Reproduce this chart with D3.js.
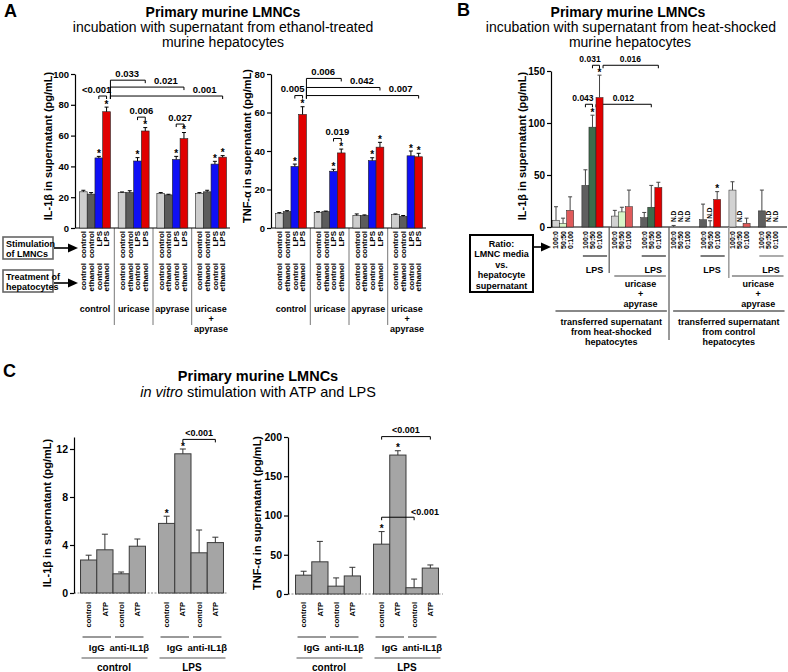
<!DOCTYPE html>
<html><head><meta charset="utf-8">
<script src="https://cdn.jsdelivr.net/npm/d3@7"></script>
<style>body{margin:0;background:#fff}svg{display:block}</style>
</head><body>
<svg id="fig" width="788" height="672"></svg>
<script>
// ================= DATA =================
// Panel A
const aGroups = ["control", "uricase", "apyrase", "uricase + apyrase"];
const aStimulation = ["control", "control", "LPS", "LPS"];
const aTreatment = ["control", "ethanol", "control", "ethanol"];
const aStars = [0, 0, 1, 1];
const aIL1bValues = [[23.5, 22, 45.5, 75.5], [23, 23, 43.5, 63], [22.5, 21.5, 44.5, 58], [22.5, 23.5, 41.5, 46]];
const aIL1bErrors = [[1, 1, 1, 3], [0.4, 1.2, 2.2, 2.2], [0.5, 0.4, 2, 4], [0.5, 1, 1.8, 1]];
const aIL1bTicks = [0, 20, 40, 60, 80, 100];
const aIL1bBrackets = [
  { from: [0, 2], to: [0, 3], y: 85.7, label: "<0.001" },
  { from: [0, 3], to: [1, 3], y: 96, label: "0.033" },
  { from: [0, 3], to: [2, 3], y: 91.5, label: "0.021" },
  { from: [0, 3], to: [3, 3], y: 85.7, label: "0.001" },
  { from: [1, 2], to: [1, 3], y: 72, label: "0.006" },
  { from: [2, 2], to: [2, 3], y: 67.5, label: "0.027" }
];
const aTNFValues = [[7.5, 8.5, 32, 59], [8, 8.5, 29.5, 39], [6.5, 6.5, 35, 42], [7, 6, 37.5, 37]];
const aTNFErrors = [[0.5, 0.5, 1.2, 4], [0.5, 0.3, 1, 2], [0.8, 0.3, 1.5, 2.5], [0.3, 0.5, 2.5, 1.8]];
const aTNFTicks = [0, 20, 40, 60, 80];
const aTNFBrackets = [
  { from: [0, 2], to: [0, 3], y: 68.8, label: "0.005" },
  { from: [0, 3], to: [1, 3], y: 77.7, label: "0.006" },
  { from: [0, 3], to: [2, 3], y: 73, label: "0.042" },
  { from: [0, 3], to: [3, 3], y: 68.8, label: "0.007" },
  { from: [1, 2], to: [1, 3], y: 46.5, label: "0.019" }
];

// Panel B
const bRatios = ["100:0", "50:50", "0:100"];
const bSource = ["heat-shocked", "heat-shocked", "heat-shocked", "heat-shocked", "control", "control", "control", "control"];
const bEnzyme = ["none", "none", "uricase + apyrase", "uricase + apyrase", "none", "none", "uricase + apyrase", "uricase + apyrase"];
const bStimulation = ["none", "LPS", "none", "LPS", "none", "LPS", "none", "LPS"];
const bIL1bValues = [[6.5, 3.5, 16], [40, 96, 124.5], [10.5, 14.5, 19.5], [9, 19, 38], [0, 0, 0], [7, 0, 26.5], [35.5, 0, 3.5], [15.5, 0, 0]];
const bIL1bErrors = [[13, 5, 13], [15, 11.5, 21.5], [5.5, 4.5, 16], [5, 21, 5], [1.5, 0, 0], [15, 6, 7.5], [8, 0, 5], [20, 0, 0]];
const bNotDetected = [[0, 0, 0], [0, 0, 0], [0, 0, 0], [0, 0, 0], [1, 1, 1], [0, 1, 0], [0, 1, 0], [0, 1, 1]];
const bStars = [[0, 0, 0], [0, 1, 1], [0, 0, 0], [0, 0, 0], [0, 0, 0], [0, 0, 1], [0, 0, 0], [0, 0, 0]];
const bTicks = [0, 50, 100, 150];
const bBrackets = [
  { from: [1, 1], to: [1, 2], y: 155.5, label: "0.031" },
  { from: [1, 2], to: [3, 2], y: 155.5, label: "0.016" },
  { from: [1, 0], to: [1, 1], y: 118, label: "0.043" },
  { from: [1, 1], to: [3, 1], y: 118, label: "0.012" }
];
const bSourceText = { "heat-shocked": ["transferred supernatant", "from heat-shocked", "hepatocytes"],
                      "control": ["transferred supernatant", "from control", "hepatocytes"] };

// Panel C
const cConditions = ["control", "LPS"];
const cAntibody = ["IgG", "IgG", "anti-IL1β", "anti-IL1β"];
const cStimulation = ["control", "ATP", "control", "ATP"];
const cStars = [[0, 0, 0, 0], [1, 1, 0, 0]];
const cIL1bValues = [[2.75, 3.6, 1.6, 3.9], [5.8, 11.6, 3.35, 4.2]];
const cIL1bErrors = [[0.4, 1.3, 0.15, 0.6], [0.6, 0.4, 1.9, 0.45]];
const cIL1bTicks = [0, 4, 8, 12];
const cIL1bBrackets = [{ from: [1, 1], to: [1, 3], y: 12.8, label: "<0.001", side: "top" }];
const cTNFValues = [[24, 41, 10, 23], [63.5, 177, 8, 33]];
const cTNFErrors = [[5, 26, 10.5, 11], [16, 5.5, 11, 4]];
const cTNFTicks = [0, 50, 100, 150, 200];
const cTNFBrackets = [
  { from: [1, 0], to: [1, 3], y: 200.5, label: "<0.001", side: "top" },
  { from: [1, 0], to: [1, 2], y: 97.8, label: "<0.001", side: "right" }
];

// ================= STYLE =================
const F = "'Liberation Sans', Arial, Helvetica, sans-serif";
const A_COLORS = ["#cdcdcd", "#5c5c5c", "#0f0ff5", "#e00000"];
const B_COLORS = { none: ["#d2d2d2", "#d8f5c8", "#e05a5a"], LPS: ["#5f5f5f", "#3e6b4c", "#e20000"] };
const C_COLOR = "#a5a5a5";

const svg = d3.select("#fig");
svg.append("rect").attr("width", 788).attr("height", 672).attr("fill", "#fff");

function addText(g, x, y, s, o = {}) {
  const t = g.append("text").attr("x", x).attr("y", y)
    .attr("font-family", F).attr("font-size", o.size || 10)
    .attr("font-weight", o.weight || "normal")
    .attr("text-anchor", o.anchor || "middle")
    .attr("fill", o.fill || "#000");
  if (o.italic) t.attr("font-style", "italic");
  t.text(s);
  return t;
}
function addVText(g, x, y, s, o = {}) {
  return g.append("text").attr("transform", `translate(${x},${y}) rotate(-90)`)
    .attr("dy", o.dy || "0.35em").attr("text-anchor", o.anchor || "end")
    .attr("font-family", F).attr("font-size", o.size || 8)
    .attr("font-weight", o.weight || "bold").attr("fill", o.fill || "#000").text(s);
}
function addLine(g, x1, y1, x2, y2, stroke = "#000", w = 1, dash = null) {
  const l = g.append("line").attr("x1", x1).attr("y1", y1).attr("x2", x2).attr("y2", y2)
    .attr("stroke", stroke).attr("stroke-width", w);
  if (dash) l.attr("stroke-dasharray", dash);
  return l;
}
function arrow(g, x1, x2, y) {
  addLine(g, x1, y, x2 - 8, y, "#000", 1.6);
  g.append("path").attr("d", `M${x2},${y}L${x2 - 10},${y - 4.5}L${x2 - 10},${y + 4.5}Z`).attr("fill", "#000");
}
function yAxis(g, y, x0, ticks, size) {
  const a = g.append("g").attr("transform", `translate(${x0},0)`)
    .call(d3.axisLeft(y).tickValues(ticks).tickSize(4).tickSizeOuter(0).tickPadding(2).tickFormat(d3.format("d")));
  a.select(".domain").attr("stroke", "#000").attr("stroke-width", 1.2);
  a.selectAll(".tick line").attr("stroke", "#000").attr("stroke-width", 1.2);
  a.selectAll(".tick text").attr("font-family", F).attr("font-size", size).attr("font-weight", "bold").attr("fill", "#000");
  return a;
}
function yTitle(g, x, yc, s) {
  g.append("text").attr("transform", `translate(${x},${yc}) rotate(-90)`)
    .attr("text-anchor", "middle").attr("dy", "0.35em")
    .attr("font-family", F).attr("font-size", 11).attr("font-weight", "bold").text(s);
}
function drawBrackets(g, list, xCenter, xRight, y, o) {
  const isLong = b => b.from[0] !== b.to[0];
  const longStarts = list.filter(isLong).map(b => xRight(b.from));
  list.forEach(b => {
    const long = isLong(b);
    const x1 = long ? xRight(b.from) : xCenter(b.from);
    const x2 = xCenter(b.to);
    const yy = y(b.y);
    let drop = o.tick;
    if (long) {
      const lowest = d3.max(list.filter(c => isLong(c) && c.from.join() === b.from.join()), c => y(c.y));
      drop = lowest - yy + o.tick;
    }
    g.append("path").attr("d", `M${x1},${yy + drop}V${yy}H${x2}V${yy + o.tick}`)
      .attr("fill", "none").attr("stroke", "#000").attr("stroke-width", 1);
    if (b.side === "right") { addText(g, x2 - 3, yy - 2, b.label, { size: o.size, weight: "bold", anchor: "start" }); return; }
    let tx = long ? x2 - o.longOffset : (x1 + x2) / 2;
    if (!long && longStarts.some(s => Math.abs(s - x2) < 6)) tx -= 6;
    addText(g, tx, yy - 3.5, b.label, { size: o.size, weight: "bold" });
  });
}

// ================= PANEL A =================
function drawPanelA(cfg) {
  const g = svg.append("g");
  const x = d3.scaleBand().domain(d3.range(aGroups.length)).range([cfg.x0, cfg.x1]).paddingInner(0.2).paddingOuter(0.09);
  const xi = d3.scaleBand().domain(d3.range(aStimulation.length)).range([0, x.bandwidth()]);
  const y = d3.scaleLinear().domain([0, d3.max(cfg.ticks)]).range([228, 74]);
  const bx = (gi, bi) => x(gi) + xi(bi);
  const bc = (gi, bi) => bx(gi, bi) + xi.bandwidth() / 2;
  const br = (p) => x(p[0]) + x.bandwidth();
  for (let i = 1; i < aGroups.length; i++) {
    const sx = (x(i - 1) + x.bandwidth() + x(i)) / 2;
    addLine(g, sx, y(0), sx, 325, "#777", 1);
  }
  addLine(g, cfg.x0, y(0), cfg.x1, y(0), "#000", 1);
  drawBrackets(g, cfg.brackets, p => bc(p[0], p[1]), br, y, { tick: 3, size: 9.5, longOffset: 18 });
  cfg.values.forEach((row, gi) => row.forEach((v, bi) => {
    g.append("rect").attr("x", bx(gi, bi)).attr("y", y(v)).attr("width", xi.bandwidth())
      .attr("height", y(0) - y(v)).attr("fill", A_COLORS[bi]).attr("stroke", "#222").attr("stroke-width", 0.6);
    const cx = bc(gi, bi), top = y(v + cfg.errors[gi][bi]);
    addLine(g, cx, y(v), cx, top); addLine(g, cx - 2, top, cx + 2, top);
    if (aStars[bi]) addText(g, cx, top + 0.5, "*", { size: 10, weight: "bold" });
    addVText(g, cx, 231, aStimulation[bi], { size: 8 });
    addVText(g, cx, 263, aTreatment[bi], { size: 8 });
  }));
  yAxis(g, y, cfg.axisX, cfg.ticks, 9.5);
  yTitle(g, cfg.titleX, 146, cfg.title);
  aGroups.forEach((name, gi) => {
    const cx = x(gi) + x.bandwidth() / 2;
    const parts = name.includes("+") ? name.split(" ").filter(s => s) : [name];
    parts.forEach((p, k) => addText(g, cx, 312 + k * 10, p, { size: 9, weight: "bold" }));
  });
}

const gA = svg.append("g");
addText(gA, 4, 17, "A", { size: 18, weight: "bold", anchor: "start" });
addText(gA, 223, 16.5, "Primary murine LMNCs", { size: 14, weight: "bold" });
addText(gA, 223, 31.5, "incubation with supernatant from ethanol-treated", { size: 14 });
addText(gA, 223, 46.5, "murine hepatocytes", { size: 14 });

drawPanelA({ x0: 76, x1: 230, axisX: 75, ticks: aIL1bTicks, values: aIL1bValues, errors: aIL1bErrors,
  brackets: aIL1bBrackets, title: "IL-1β in supernatant (pg/mL)", titleX: 48 });
drawPanelA({ x0: 272, x1: 426, axisX: 271, ticks: aTNFTicks, values: aTNFValues, errors: aTNFErrors,
  brackets: aTNFBrackets, title: "TNF-α in supernatant (pg/mL)", titleX: 247 });

[["Stimulation", "of LMNCs", 237, 248], ["Treatment of", "hepatocytes", 270, 283]].forEach(([l1, l2, top, ay]) => {
  gA.append("rect").attr("x", 3).attr("y", top).attr("width", 50).attr("height", 22)
    .attr("fill", "#fff").attr("stroke", "#666").attr("stroke-width", 1.6);
  addText(gA, 6, top + 9.5, l1, { size: 9, weight: "bold", anchor: "start" });
  addText(gA, 6, top + 19.5, l2, { size: 9, weight: "bold", anchor: "start" });
  arrow(gA, 54, 78, ay);
});

// ================= PANEL B =================
(function drawPanelB() {
  const g = svg.append("g");
  addText(g, 457, 16, "B", { size: 18, weight: "bold", anchor: "start" });
  addText(g, 628, 16.5, "Primary murine LMNCs", { size: 14, weight: "bold" });
  addText(g, 631, 31.5, "incubation with supernatant from heat-shocked", { size: 14 });
  addText(g, 630, 46.5, "murine hepatocytes", { size: 14 });

  const n = bIL1bValues.length;
  const x = d3.scaleBand().domain(d3.range(n)).range([551, 781]).paddingInner(0.28).paddingOuter(0.05);
  const xi = d3.scaleBand().domain(d3.range(bRatios.length)).range([0, x.bandwidth()]);
  const y = d3.scaleLinear().domain([0, d3.max(bTicks)]).range([227, 71]);
  const bx = (gi, bi) => x(gi) + xi(bi);
  const bc = (gi, bi) => bx(gi, bi) + xi.bandwidth() / 2;
  const br = p => bx(p[0], p[1]) + xi.bandwidth();
  const bw = x.bandwidth();

  addLine(g, 551, y(0), 787, y(0), "#000", 1);
  drawBrackets(g, bBrackets, p => bc(p[0], p[1]), br, y, { tick: 3, size: 8.5, longOffset: 28 });
  bIL1bValues.forEach((row, gi) => row.forEach((v, bi) => {
    const cx = bc(gi, bi);
    if (v > 0) g.append("rect").attr("x", bx(gi, bi)).attr("y", y(v)).attr("width", xi.bandwidth())
      .attr("height", y(0) - y(v)).attr("fill", B_COLORS[bStimulation[gi]][bi]).attr("stroke", "#222").attr("stroke-width", 0.5);
    const e = bIL1bErrors[gi][bi], top = y(v + e);
    if (e > 0) { addLine(g, cx, y(v), cx, top, "#444"); addLine(g, cx - 2, top, cx + 2, top, "#444"); }
    if (bStars[gi][bi]) addText(g, cx, top + 0.5, "*", { size: 10, weight: "bold" });
    if (bNotDetected[gi][bi]) addVText(g, cx, Math.min(222, top - 2), "N.D", { size: 6.5, anchor: "start" });
    addVText(g, cx, 231, bRatios[bi], { size: 7 });
  }));
  yAxis(g, y, 551, bTicks, 10);
  yTitle(g, 522, 146, "IL-1β in supernatant (pg/mL)");

  bStimulation.forEach((s, gi) => {
    if (s !== "LPS") return;
    addLine(g, x(gi) + 1, 256, x(gi) + bw + 4, 256, gi >= 6 ? "#888" : "#444", 1.4);
    addText(g, x(gi) + bw / 2 + 2, 272.5, "LPS", { size: 9, weight: "bold" });
  });
  const runs = (arr, keep) => {
    const out = []; let start = null;
    arr.forEach((v, i) => {
      const same = i > 0 && arr[i - 1] === v && bSource[i - 1] === bSource[i];
      if (!same) { if (start !== null) out.push([start, i - 1]); start = i; }
    });
    out.push([start, arr.length - 1]);
    return out.filter(r => keep(arr[r[0]]));
  };
  runs(bEnzyme, v => v !== "none").forEach(([a, b]) => {
    addLine(g, x(a) + 3, 276, x(b) + bw + 4, 276, "#444", 1.2);
    const cx = (x(a) + x(b) + bw) / 2 + 4;
    ["uricase", "+", "apyrase"].forEach((t, k) => addText(g, cx, 287 + k * 10, t, { size: 9, weight: "bold" }));
  });
  runs(bSource, () => true).forEach(([a, b]) => {
    const x1 = x(a) + 3, x2 = x(b) + bw + 5;
    addLine(g, x1, 311, x2, 311, "#888", 2);
    bSourceText[bSource[a]].forEach((t, k) => addText(g, (x1 + x2) / 2, 325 + k * 10, t, { size: 9, weight: "bold" }));
  });
  const sep = (i) => (x(i - 1) + bw + x(i)) / 2;
  addLine(g, sep(2) + 2, y(0), sep(2) + 2, 273, "#555", 1.2);
  addLine(g, sep(4) + 3, y(0), sep(4) + 3, 340, "#555", 1.2);
  addLine(g, sep(6) + 4, y(0), sep(6) + 4, 278, "#999", 1.5);

  g.append("rect").attr("x", 470).attr("y", 235).attr("width", 63).attr("height", 57)
    .attr("fill", "#fff").attr("stroke", "#000").attr("stroke-width", 2);
  ["Ratio:", "LMNC media", "vs.", "hepatocyte", "supernatant"].forEach((t, k) =>
    addText(g, 501.5, 246.5 + k * 10.5, t, { size: 9, weight: "bold" }));
  arrow(g, 534, 551, 247);
})();

// ================= PANEL C =================
function drawPanelC(cfg) {
  const g = svg.append("g");
  const x = d3.scaleBand().domain(cConditions).range([cfg.x0, cfg.x1]).paddingInner(0.167).paddingOuter(0.058);
  const xi = d3.scaleBand().domain(d3.range(cStimulation.length)).range([0, x.bandwidth()]);
  const y = d3.scaleLinear().domain([0, cfg.max]).range([cfg.base, cfg.top]);
  const bx = (gi, bi) => x(cConditions[gi]) + xi(bi);
  const bc = (gi, bi) => bx(gi, bi) + xi.bandwidth() / 2;
  const br = p => bx(p[0], p[1]) + xi.bandwidth();

  addLine(g, cfg.axisX, y(0), cfg.x1, y(0), "#888", 1, "2,1.5");
  cfg.values.forEach((row, gi) => row.forEach((v, bi) => {
    g.append("rect").attr("x", bx(gi, bi)).attr("y", y(v)).attr("width", xi.bandwidth())
      .attr("height", y(0) - y(v)).attr("fill", C_COLOR).attr("stroke", "#3a3a3a").attr("stroke-width", 1);
    const cx = bc(gi, bi), top = y(v + cfg.errors[gi][bi]);
    addLine(g, cx, y(v), cx, top, "#333"); addLine(g, cx - 3, top, cx + 3, top, "#333");
    if (cStars[gi][bi]) addText(g, cx, top + 0.5, "*", { size: 10, weight: "bold" });
    addVText(g, cx, 602, cStimulation[bi], { size: 7.5 });
  }));
  drawBrackets(g, cfg.brackets, p => bc(p[0], p[1]), br, y, { tick: 3, size: 9, longOffset: 18 });
  yAxis(g, y, cfg.axisX, cfg.ticks, 10.5);
  yTitle(g, cfg.titleX, 513, cfg.title);

  cConditions.forEach((c, gi) => {
    const x0 = x(c), w = x.bandwidth();
    const pairs = [];
    cAntibody.forEach((a, i) => { if (i === 0 || cAntibody[i - 1] !== a) pairs.push([i, i]); else pairs[pairs.length - 1][1] = i; });
    pairs.forEach(([a, b]) => {
      const p1 = bx(gi, a) + 2, p2 = bx(gi, b) + xi.bandwidth() - 2;
      addLine(g, p1, 637, p2, 637, "#555", 1.2);
      addText(g, (p1 + p2) / 2, 651, cAntibody[a], { size: 9.5, weight: "bold" });
    });
    addLine(g, x0 + 1, 658, x0 + w + 2, 658, "#555", 1.2);
    addText(g, x0 + w / 2 + 1, 671, c, { size: 10, weight: "bold" });
  });
}

const gC = svg.append("g");
addText(gC, 3, 377, "C", { size: 18, weight: "bold", anchor: "start" });
addText(gC, 258, 381, "Primary murine LMNCs", { size: 14.5, weight: "bold" });
const cSub = gC.append("text").attr("x", 258).attr("y", 397).attr("text-anchor", "middle")
  .attr("font-family", F).attr("font-size", 14.5);
cSub.append("tspan").attr("font-style", "italic").text("in vitro");
cSub.append("tspan").text(" stimulation with ATP and LPS");

drawPanelC({ x0: 76, x1: 228, axisX: 74, base: 593, top: 437, max: 13, ticks: cIL1bTicks,
  values: cIL1bValues, errors: cIL1bErrors, brackets: cIL1bBrackets, title: "IL-1β in supernatant (pg/mL)", titleX: 47 });
drawPanelC({ x0: 291, x1: 443, axisX: 288, base: 594, top: 437, max: 200, ticks: cTNFTicks,
  values: cTNFValues, errors: cTNFErrors, brackets: cTNFBrackets, title: "TNF-α in supernatant (pg/mL)", titleX: 257 });
</script>
</body></html>
